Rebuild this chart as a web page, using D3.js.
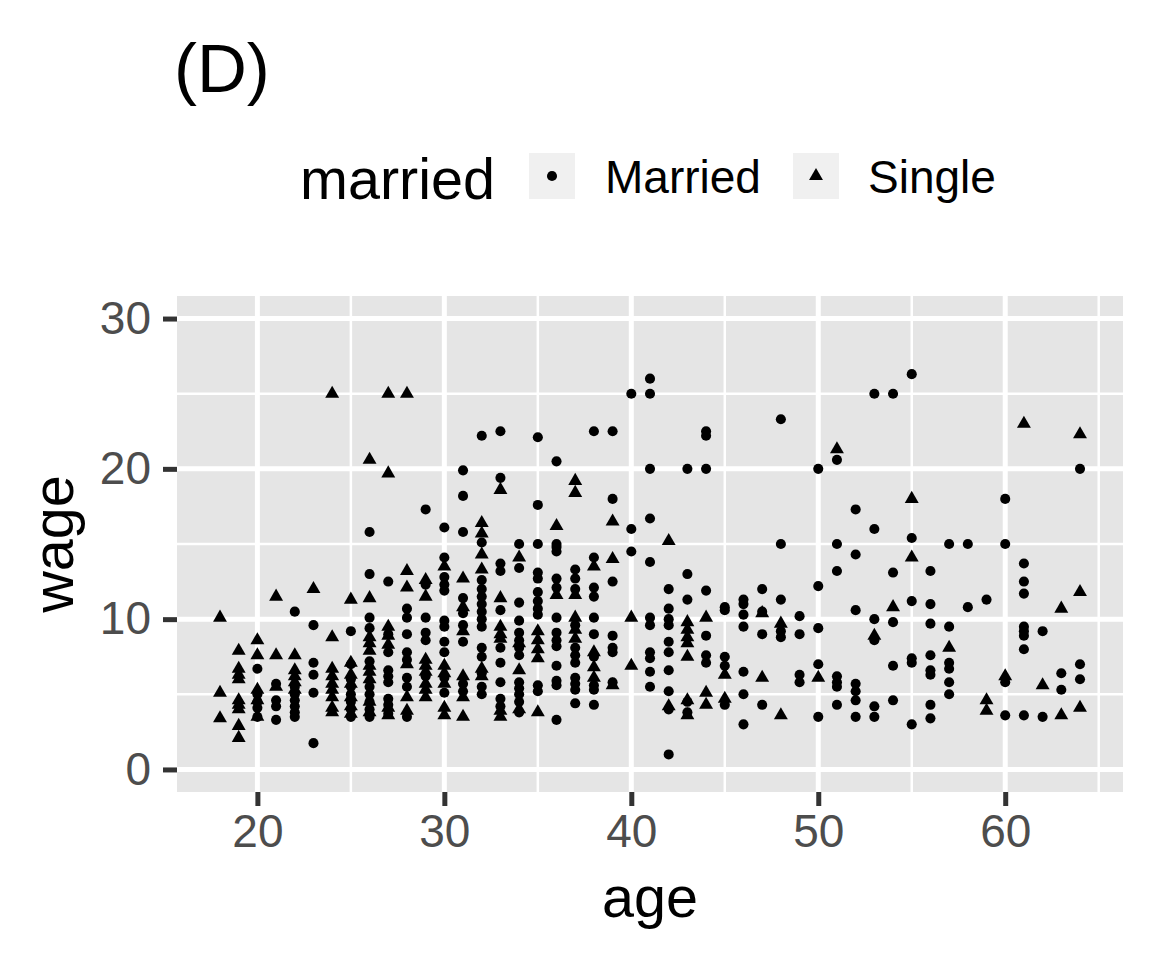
<!DOCTYPE html>
<html>
<head>
<meta charset="utf-8">
<script src="https://cdn.jsdelivr.net/npm/d3@7"></script>
<style>
  html, body { margin: 0; padding: 0; background: #ffffff; }
  svg { display: block; }
  text { font-family: "Liberation Sans", Arial, Helvetica, sans-serif; }
</style>
</head>
<body>
<div id="chart"></div>
<script>
// ---- data (age, wages at that age) ----
const marriedByAge = [
  [20, [6.7, 5.0, 4.5, 4.1, 3.5]],
  [21, [5.7, 4.6, 4.2, 3.3]],
  [22, [10.5, 5.5, 5.0, 4.6, 4.2, 3.8, 3.5]],
  [23, [9.6, 7.1, 6.3, 5.1, 1.75]],
  [25, [9.2, 7.0, 6.0, 5.5, 5.0, 4.5, 4.0, 3.5]],
  [26, [15.8, 13.0, 10.1, 9.4, 7.2, 5.5, 5.0, 4.5, 4.0, 3.5]],
  [27, [12.5, 9.0, 7.8, 6.6, 6.2, 5.8, 4.7, 4.3, 3.7]],
  [28, [10.7, 10.1, 9.0, 7.8, 7.3, 6.1, 5.5, 3.5]],
  [29, [17.3, 12.3, 10.1, 9.1, 8.6, 6.2]],
  [30, [16.1, 14.1, 12.8, 12.3, 11.9, 9.9, 9.5, 8.5, 7.8, 6.1, 5.1]],
  [31, [19.9, 18.2, 15.8, 11.4, 10.4, 9.6, 8.5, 5.7, 5.2]],
  [32, [22.2, 15.1, 12.6, 12.0, 11.5, 11.0, 10.5, 10.0, 9.5, 8.1, 7.5, 6.4, 5.5, 5.0]],
  [33, [22.5, 19.4, 13.7, 13.2, 10.6, 8.1, 7.1, 5.8, 4.7, 4.2]],
  [34, [15.0, 13.4, 11.1, 9.9, 9.1, 8.6, 8.1, 7.6, 5.8, 5.4, 5.0, 4.5, 3.8]],
  [35, [22.1, 17.6, 15.0, 13.1, 12.7, 11.8, 11.2, 10.7, 10.3, 5.6, 5.2]],
  [36, [20.5, 15.0, 14.8, 14.5, 12.7, 12.1, 10.1, 9.1, 8.6, 8.2, 6.9, 5.9, 5.6, 3.3]],
  [37, [13.3, 12.7, 12.0, 9.6, 8.1, 7.6, 7.1, 6.1, 5.7, 5.3, 4.4]],
  [38, [22.5, 14.1, 12.1, 11.5, 10.1, 9.0, 7.5, 5.6, 5.3, 4.3]],
  [39, [22.5, 18.0, 12.5, 8.9, 8.1, 7.8, 5.8]],
  [40, [25.0, 16.0, 14.5]],
  [41, [26.0, 25.0, 20.0, 16.7, 13.8, 10.1, 9.6, 7.8, 7.4, 6.5, 5.5]],
  [42, [12.0, 10.7, 10.0, 9.6, 8.5, 7.8, 6.6, 5.2, 4.0, 1.0]],
  [43, [20.0, 13.0, 11.3, 4.5, 3.8]],
  [44, [22.5, 22.2, 20.0, 11.9, 8.9, 7.6, 7.1]],
  [45, [10.8, 10.6, 7.5, 6.9, 4.3]],
  [46, [11.3, 11.0, 10.3, 9.5, 6.5, 5.0, 3.0]],
  [47, [12.0, 10.5, 9.0, 4.3]],
  [48, [23.3, 15.0, 11.3, 9.2, 8.8]],
  [49, [10.2, 9.0, 6.3, 5.8]],
  [50, [20.0, 12.2, 9.4, 7.0, 3.5]],
  [51, [20.6, 15.0, 13.2, 6.2, 5.8, 5.5, 4.3]],
  [52, [17.3, 14.3, 10.6, 5.7, 5.2, 4.6, 3.5]],
  [53, [25.0, 16.0, 10.0, 8.6, 4.2, 3.5]],
  [54, [25.0, 13.1, 9.8, 6.9, 4.6]],
  [55, [26.3, 15.4, 11.2, 7.4, 7.1, 3.0]],
  [56, [13.2, 11.0, 9.7, 7.6, 6.6, 6.3, 4.3, 3.4]],
  [57, [15.0, 9.5, 7.1, 6.7, 5.8, 5.0]],
  [58, [15.0, 10.8]],
  [59, [11.3]],
  [60, [18.0, 15.0, 5.8, 3.6]],
  [61, [13.7, 12.5, 11.7, 9.5, 9.2, 8.9, 8.0, 3.6]],
  [62, [9.2, 3.5]],
  [63, [6.4, 5.3]],
  [64, [20.0, 7.0, 6.0]]
];

const singleByAge = [
  [18, [10.1, 5.1, 3.4]],
  [19, [7.9, 6.7, 6.3, 6.0, 4.6, 4.3, 4.0, 2.9, 2.1]],
  [20, [8.6, 7.6, 5.3, 4.6, 3.5]],
  [21, [11.5, 7.6, 5.5]],
  [22, [7.6, 6.6, 6.2, 5.8, 5.3]],
  [23, [12.0]],
  [24, [25.0, 8.8, 6.7, 6.2, 5.7, 5.3, 4.8, 4.1, 3.8]],
  [25, [11.3, 7.1, 6.3, 5.7, 4.8, 4.2, 3.7]],
  [26, [20.6, 11.4, 8.8, 8.4, 7.9, 6.9, 6.5, 6.0, 4.5, 3.8]],
  [27, [25.0, 19.7, 9.5, 8.9, 8.3, 4.1, 3.6]],
  [28, [25.0, 13.2, 12.1, 7.0, 4.8, 3.9]],
  [29, [12.6, 11.5, 7.3, 6.9, 6.5, 5.7, 5.3, 4.8]],
  [30, [13.5, 6.9, 6.4, 5.7, 4.1, 3.6]],
  [31, [12.7, 10.8, 9.2, 6.2, 4.8, 3.5]],
  [32, [16.4, 15.7, 14.3, 13.3, 6.7, 6.2]],
  [33, [18.6, 11.4, 9.5, 9.0, 8.7, 3.9, 3.5]],
  [34, [14.1, 8.4, 6.6, 4.0]],
  [35, [9.2, 8.6, 8.0, 7.4, 3.8]],
  [36, [16.2, 11.6]],
  [37, [19.2, 18.4, 11.6, 10.1, 9.3, 8.7]],
  [38, [13.5, 7.8, 6.8, 6.1]],
  [39, [16.5, 14.0, 5.6]],
  [40, [10.1, 6.9]],
  [42, [15.2, 4.2]],
  [43, [9.8, 9.3, 8.8, 8.4, 7.5, 4.6, 3.6]],
  [44, [10.1, 5.1, 4.3]],
  [45, [6.3, 4.7]],
  [47, [10.4, 6.1]],
  [48, [9.7, 3.6]],
  [50, [6.1]],
  [51, [21.3]],
  [53, [8.9]],
  [54, [10.8]],
  [55, [18.0, 14.1]],
  [57, [8.1]],
  [59, [4.6, 3.9]],
  [60, [6.2]],
  [61, [23.0]],
  [62, [5.6]],
  [63, [10.7, 3.6]],
  [64, [22.3, 11.8, 4.1]]
];

const xTicks = [20, 30, 40, 50, 60];
const xMinor = [25, 35, 45, 55, 65];
const yTicks = [0, 10, 20, 30];
const yMinor = [5, 15, 25];
const legendLabels = ["Married", "Single"];

// ---- layout ----
const W = 1152, H = 960;
const panel = { left: 177, right: 1123, top: 296, bottom: 792 };

const svg = d3.select("#chart").append("svg")
  .attr("width", W).attr("height", H);
svg.append("rect").attr("width", W).attr("height", H).attr("fill", "#ffffff");

const x = d3.scaleLinear().domain([15.7, 66.3]).range([panel.left, panel.right]);
const y = d3.scaleLinear().domain([-1.5, 31.5]).range([panel.bottom, panel.top]);

// panel background
svg.append("rect")
  .attr("x", panel.left).attr("y", panel.top)
  .attr("width", panel.right - panel.left).attr("height", panel.bottom - panel.top)
  .attr("fill", "#E5E5E5");

const grid = svg.append("g");
// minor grid
grid.selectAll(".vminor").data(xMinor).join("line")
  .attr("x1", d => x(d)).attr("x2", d => x(d))
  .attr("y1", panel.top).attr("y2", panel.bottom)
  .attr("stroke", "#ffffff").attr("stroke-width", 2.5);
grid.selectAll(".hminor").data(yMinor).join("line")
  .attr("y1", d => y(d)).attr("y2", d => y(d))
  .attr("x1", panel.left).attr("x2", panel.right)
  .attr("stroke", "#ffffff").attr("stroke-width", 2.5);
// major grid
grid.selectAll(".vmajor").data(xTicks).join("line")
  .attr("x1", d => x(d)).attr("x2", d => x(d))
  .attr("y1", panel.top).attr("y2", panel.bottom)
  .attr("stroke", "#ffffff").attr("stroke-width", 5);
grid.selectAll(".hmajor").data(yTicks).join("line")
  .attr("y1", d => y(d)).attr("y2", d => y(d))
  .attr("x1", panel.left).attr("x2", panel.right)
  .attr("stroke", "#ffffff").attr("stroke-width", 5);

// points
const circleSym = d3.symbol().type(d3.symbolCircle).size(80);
const triSym = d3.symbol().type(d3.symbolTriangle).size(84);

const marriedPts = marriedByAge.flatMap(([a, ws]) => ws.map(w => [a, w]));
const singlePts = singleByAge.flatMap(([a, ws]) => ws.map(w => [a, w]));

const pts = svg.append("g");
pts.selectAll(".m").data(marriedPts).join("path")
  .attr("d", circleSym)
  .attr("transform", d => `translate(${x(d[0])},${y(d[1])})`)
  .attr("fill", "#000000");
pts.selectAll(".s").data(singlePts).join("path")
  .attr("d", triSym)
  .attr("transform", d => `translate(${x(d[0])},${y(d[1])})`)
  .attr("fill", "#000000");

// axes (ticks + labels)
const xAxis = d3.axisBottom(x).tickValues(xTicks).tickSize(14).tickPadding(8);
const gx = svg.append("g").attr("transform", `translate(0,${panel.bottom})`).call(xAxis);
gx.select(".domain").remove();
gx.selectAll(".tick line").attr("stroke", "#333333").attr("stroke-width", 5);
gx.selectAll(".tick text").attr("fill", "#4D4D4D")
  .style("font-size", "46px")
  .style("font-family", "'Liberation Sans', Arial, Helvetica, sans-serif");

const yAxis = d3.axisLeft(y).tickValues(yTicks).tickSize(14).tickPadding(12);
const gy = svg.append("g").attr("transform", `translate(${panel.left},0)`).call(yAxis);
gy.select(".domain").remove();
gy.selectAll(".tick line").attr("stroke", "#333333").attr("stroke-width", 5);
gy.selectAll(".tick text").attr("fill", "#4D4D4D")
  .style("font-size", "46px")
  .style("font-family", "'Liberation Sans', Arial, Helvetica, sans-serif");

// axis titles
svg.append("text")
  .attr("x", (panel.left + panel.right) / 2).attr("y", 917)
  .attr("text-anchor", "middle")
  .style("font-size", "57.5px").attr("fill", "#000000")
  .text("age");
svg.append("text")
  .attr("transform", `translate(73,${(panel.top + panel.bottom) / 2}) rotate(-90)`)
  .attr("text-anchor", "middle")
  .style("font-size", "57.5px").attr("fill", "#000000")
  .text("wage");

// plot title
svg.append("text")
  .attr("x", 174).attr("y", 92)
  .style("font-size", "69px").attr("fill", "#000000")
  .text("(D)");

// legend
const leg = svg.append("g");
leg.append("text")
  .attr("x", 300).attr("y", 199)
  .style("font-size", "57.5px").attr("fill", "#000000")
  .text("married");

const keyX = [529, 793];
const labX = [605, 868];
const syms = [circleSym, triSym];
legendLabels.forEach((lab, i) => {
  leg.append("rect")
    .attr("x", keyX[i]).attr("y", 153)
    .attr("width", 46).attr("height", 46)
    .attr("fill", "#F0F0F0");
  leg.append("path")
    .attr("d", syms[i]())
    .attr("transform", `translate(${keyX[i] + 23},176)`)
    .attr("fill", "#000000");
  leg.append("text")
    .attr("x", labX[i]).attr("y", 193)
    .style("font-size", "46px").attr("fill", "#000000")
    .text(lab);
});
</script>
</body>
</html>
